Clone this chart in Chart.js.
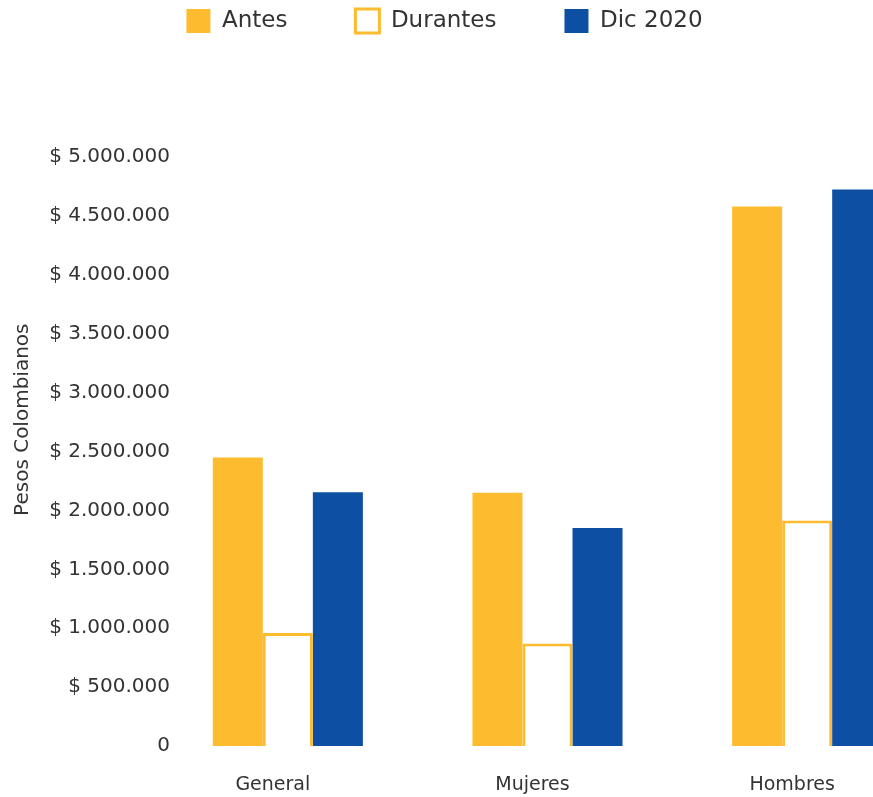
<!DOCTYPE html>
<html>
<head>
<meta charset="utf-8">
<script src="https://cdn.jsdelivr.net/npm/chart.js@4.4.0/dist/chart.umd.min.js"></script>
<style>
  html, body { margin: 0; padding: 0; overflow: hidden; background: #fff; }
  #wrap { position: relative; width: 960px; height: 797px; }
</style>
</head>
<body>
<div id="wrap"><canvas id="myChart"></canvas></div>
<script>
let categories = ['General', 'Mujeres', 'Hombres'];
let seriesNames = ['Antes', 'Durantes', 'Dic 2020'];
let antes = [2450000, 2150000, 4580000];
let durantes = [960000, 870000, 1915000];
let dic2020 = [2155000, 1850000, 4725000];
let yMax = 5000000;
let yStep = 500000;

let yellow = '#FDBB30';
let blue = '#0D4FA2';
let textColor = '#333333';
let fontName = 'DejaVu Sans';

Chart.defaults.font.family = fontName;
Chart.defaults.color = textColor;

function pesos(v) {
  if (v === 0) return '0';
  return '$ ' + String(v).replace(/\B(?=(\d{3})+(?!\d))/g, '.');
}

let ctx = document.getElementById('myChart').getContext('2d');

// width of the widest tick label, to right-align the mirrored labels
ctx.font = '20px "' + fontName + '"';
let widestTick = ctx.measureText(pesos(yMax)).width;

// legend: extra room under it
let legendSpacer = {
  id: 'legendSpacer',
  beforeInit(chart) {
    let fit = chart.legend.fit;
    chart.legend.fit = function () {
      fit.call(this);
      this.height = 157;
    };
  },
  afterLayout(chart) {
    let l = chart.legend;
    l.top = 9 - 68;
    l.bottom = l.top + 157;
    l.left -= 24;
    l.right -= 24;
  }
};

let myChart = new Chart(ctx, {
  type: 'bar',
  data: {
    labels: categories,
    datasets: [{
      label: seriesNames[0],
      data: antes,
      backgroundColor: yellow,
      borderWidth: 0
    }, {
      label: seriesNames[1],
      data: durantes,
      backgroundColor: '#ffffff',
      borderColor: yellow,
      borderWidth: 3
    }, {
      label: seriesNames[2],
      data: dic2020,
      backgroundColor: blue,
      borderWidth: 0
    }]
  },
  options: {
    responsive: true,
    maintainAspectRatio: false,
    animation: false,
    layout: { padding: { right: 23, bottom: 0 } },
    categoryPercentage: 0.578,
    barPercentage: 1.0,
    plugins: {
      legend: {
        position: 'top',
        labels: {
          boxWidth: 24,
          boxHeight: 24,
          padding: 68,
          color: textColor,
          font: { size: 23 }
        }
      },
      tooltip: { enabled: false }
    },
    scales: {
      x: {
        afterFit(scale) { scale.height = 51; },
        grid: { display: false, drawTicks: false },
        border: { display: false },
        ticks: {
          color: textColor,
          font: { size: 19 },
          padding: 28,
          labelOffset: -15,
          maxRotation: 0
        }
      },
      y: {
        min: 0,
        max: yMax,
        afterFit(scale) { scale.width = 158; },
        grid: { display: false, drawTicks: false },
        border: { display: false },
        ticks: {
          stepSize: yStep,
          mirror: true,
          crossAlign: 'far',
          padding: 12 - widestTick,
          color: textColor,
          font: { size: 20 },
          callback: (value) => pesos(value)
        },
        title: {
          display: true,
          text: '          Pesos Colombianos',
          color: textColor,
          font: { size: 20 },
          padding: { top: 11 }
        }
      }
    }
  },
  plugins: [legendSpacer]
});
</script>
</body>
</html>
